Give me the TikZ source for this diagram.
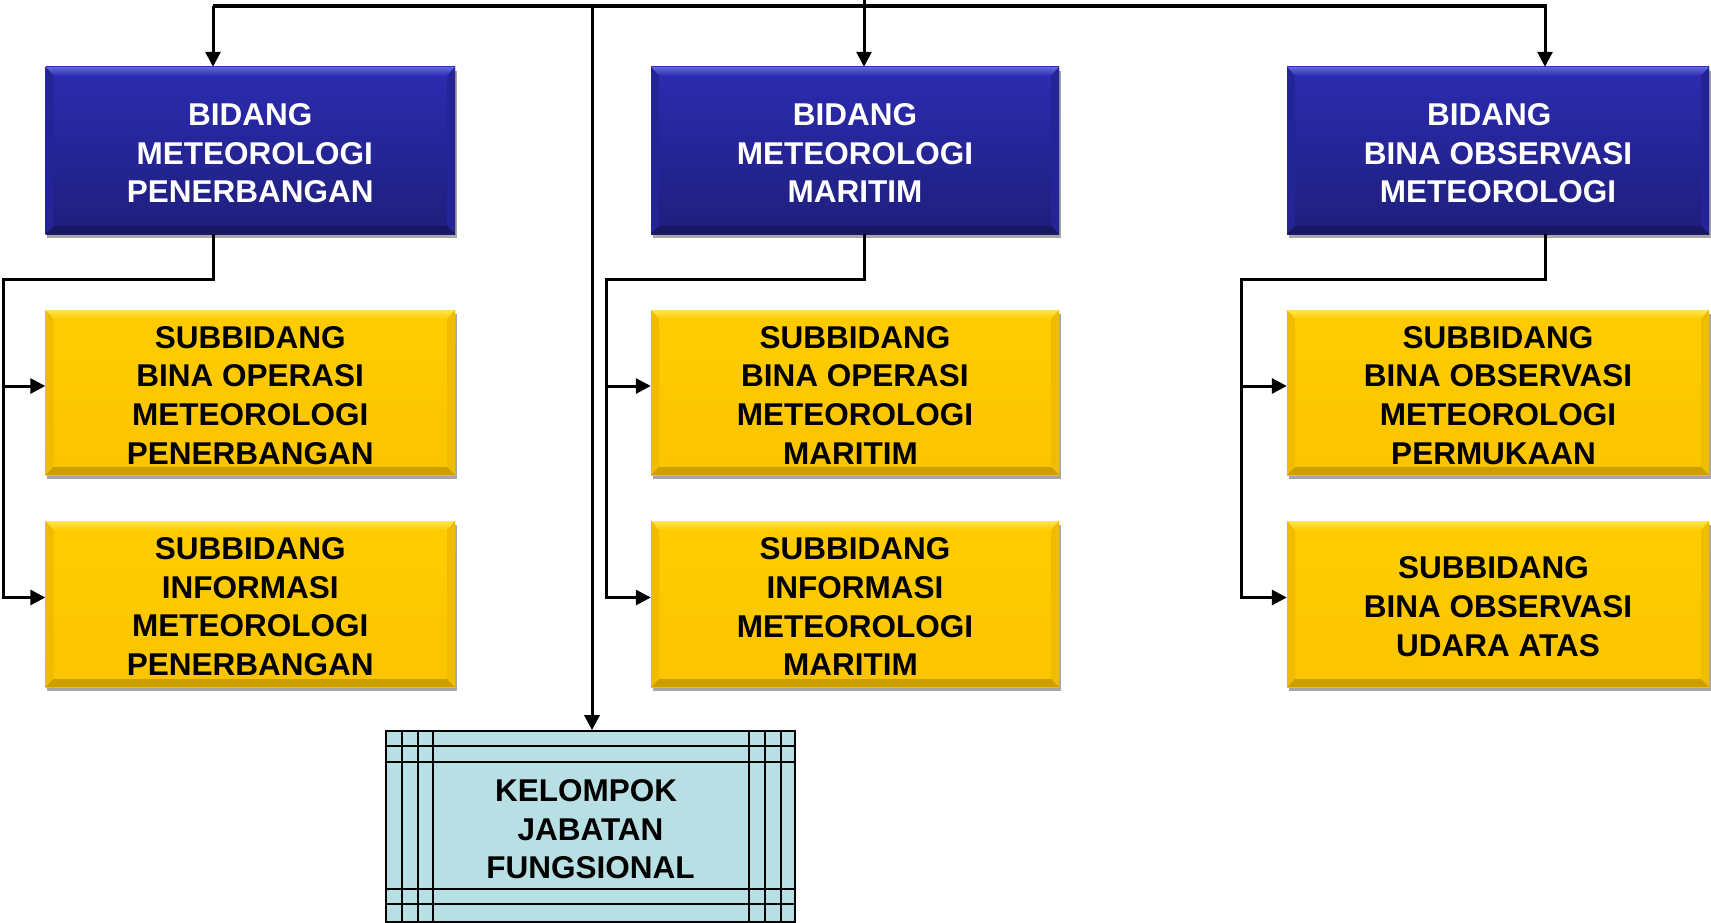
\documentclass[tikz,border=0pt]{standalone}
\usepackage{fontspec}
\setmainfont{Liberation Sans}
\usetikzlibrary{arrows.meta,shadows}
\definecolor{bluetop}{RGB}{44,44,178}
\definecolor{bluebot}{RGB}{30,30,124}
\definecolor{bluelt}{RGB}{100,100,235}
\definecolor{blueside}{RGB}{36,36,150}
\definecolor{bluedk}{RGB}{24,24,96}
\definecolor{yel}{RGB}{255,204,0}
\definecolor{yelbot}{RGB}{250,196,0}
\definecolor{yellt}{RGB}{255,230,80}
\definecolor{yelside}{RGB}{240,188,0}
\definecolor{yeldk}{RGB}{205,158,0}
\definecolor{kjfc}{RGB}{184,223,227}
\newcommand\tsp{\hspace*{8.8pt}}
\newcommand\tup{\rule{0pt}{27.5pt}}
\begin{document}
\begin{tikzpicture}[
  x=1pt,y=-1pt,
  bevelpic/.style n args={4}{path picture={
    \coordinate (pnw) at (path picture bounding box.north west);
    \coordinate (pne) at (path picture bounding box.north east);
    \coordinate (psw) at (path picture bounding box.south west);
    \coordinate (pse) at (path picture bounding box.south east);
    \shade[top color=#1,bottom color=#2] (pnw) -- (pne) -- ([shift={(-8pt,-9pt)}]pne) -- ([shift={(8pt,-9pt)}]pnw) -- cycle;
    \fill[#3] (pnw) -- ([shift={(8pt,-9pt)}]pnw) -- ([shift={(8pt,8pt)}]psw) -- (psw) -- cycle;
    \fill[#3] (pne) -- ([shift={(-8pt,-9pt)}]pne) -- ([shift={(-8pt,8pt)}]pse) -- (pse) -- cycle;
    \fill[#4] (psw) -- (pse) -- ([shift={(-8pt,8pt)}]pse) -- ([shift={(8pt,8pt)}]psw) -- cycle;
  }},
  boxfont/.style={font=\bfseries\fontsize{31.5}{38.7}\selectfont},
  bluebox/.style={boxfont, text=white, align=center, inner sep=0pt,
    minimum height=167pt, top color=bluetop, bottom color=bluebot,
    drop shadow={shadow xshift=1.5pt,shadow yshift=-4pt,opacity=.35,fill=black},
    bevelpic={bluelt}{bluetop}{blueside}{bluedk}},
  yelbox/.style={boxfont, text=black, align=center, inner sep=0pt,
    top color=yel, bottom color=yelbot,
    drop shadow={shadow xshift=1.5pt,shadow yshift=-4pt,opacity=.35,fill=black},
    bevelpic={yellt}{yel}{yelside}{yeldk}},
  kjfbox/.style={boxfont, text=black, align=center, inner sep=0pt,
    draw=black, line width=1.6pt, fill=kjfc,
    minimum width=409pt, minimum height=191pt,
    path picture={
      \coordinate (pnw) at (path picture bounding box.north west);
      \coordinate (pne) at (path picture bounding box.north east);
      \coordinate (psw) at (path picture bounding box.south west);
      \coordinate (pse) at (path picture bounding box.south east);
      \foreach \d in {16,32,47} {\draw[line width=1.6pt] ([xshift=\d pt]pnw) -- ([xshift=\d pt]psw);}
      \foreach \d in {14,30,46} {\draw[line width=1.6pt] ([xshift=-\d pt]pne) -- ([xshift=-\d pt]pse);}
      \foreach \d in {15,31} {\draw[line width=1.6pt] ([yshift=-\d pt]pnw) -- ([yshift=-\d pt]pne);}
      \foreach \d in {18,33} {\draw[line width=1.6pt] ([yshift=\d pt]psw) -- ([yshift=\d pt]pse);}
    }},
  conn/.style={draw=black, line width=3pt},
  arr/.style={-{Triangle[length=15pt,width=15pt]}}
]
\useasboundingbox (0,0) rectangle (1711,923);

% Bidang boxes
\node[bluebox, minimum width=409.5pt] (b1) at (250.25,150.5) {\tup BIDANG\\\tsp METEOROLOGI\\PENERBANGAN};
\node[bluebox, minimum width=408pt] (b2) at (855,150.5) {\tup BIDANG\\METEOROLOGI\tsp\\MARITIM};
\node[bluebox, minimum width=422pt] (b3) at (1498,150.5) {\tup BIDANG\tsp\tsp\\BINA OBSERVASI\\METEOROLOGI};

% Subbidang boxes
\node[yelbox, minimum width=409.5pt, minimum height=165pt] (y11) at (250.25,392.5) {\tup SUBBIDANG\\BINA OPERASI\\METEOROLOGI\tsp\\PENERBANGAN};
\node[yelbox, minimum width=409.5pt, minimum height=166pt] (y12) at (250.25,604) {\tup SUBBIDANG\\INFORMASI\\METEOROLOGI\tsp\\PENERBANGAN};
\node[yelbox, minimum width=408pt, minimum height=165pt] (y21) at (855,392.5) {\tup SUBBIDANG\\BINA OPERASI\\METEOROLOGI\tsp\\MARITIM\tsp};
\node[yelbox, minimum width=408pt, minimum height=166pt] (y22) at (855,604) {\tup SUBBIDANG\\INFORMASI\\METEOROLOGI\tsp\\MARITIM\tsp};
\node[yelbox, minimum width=422pt, minimum height=165pt] (y31) at (1498,392.5) {\tup SUBBIDANG\\BINA OBSERVASI\\METEOROLOGI\tsp\\PERMUKAAN\tsp};
\node[yelbox, minimum width=422pt, minimum height=166pt] (y32) at (1498,604) {\tup SUBBIDANG\tsp\\BINA OBSERVASI\\UDARA ATAS};

% Kelompok jabatan fungsional
\node[kjfbox] (kjf) at (590.5,826.5) {\tup KELOMPOK\tsp\\JABATAN\tsp\\FUNGSIONAL};

% Top connectors
\coordinate (up) at (864,0);
\coordinate (t1) at (213,6);
\coordinate (t2) at (864,6);
\coordinate (tm) at (592,6);
\coordinate (t3) at (1545,6);
\draw[conn, line width=3.4pt] (t1) -- ([xshift=2pt]t3);
\draw[conn,arr] (t1) -- (t1 |- b1.north);
\draw[conn,arr] (up) -- (up |- b2.north);
\draw[conn,arr] (t3) -- (t3 |- b3.north);
\draw[conn,arr] (tm) -- (tm |- kjf.north);

% Brackets
\coordinate (k1) at (3,279);
\coordinate (k2) at (606,279);
\coordinate (k3) at (1241,279);
\coordinate (a11) at ([yshift=6.5pt]y11.west);
\coordinate (a12) at ([yshift=6.5pt]y12.west);
\coordinate (a21) at ([yshift=6.5pt]y21.west);
\coordinate (a22) at ([yshift=6.5pt]y22.west);
\coordinate (a31) at ([yshift=6.5pt]y31.west);
\coordinate (a32) at ([yshift=6.5pt]y32.west);

\draw[conn,arr] (b1.south -| t1) |- (k1) |- (a12);
\draw[conn,arr] (k1 |- a11) -- (a11);
\draw[conn,arr] (b2.south -| t2) |- (k2) |- (a22);
\draw[conn,arr] (k2 |- a21) -- (a21);
\draw[conn,arr] (b3.south -| t3) |- (k3) |- (a32);
\draw[conn,arr] (k3 |- a31) -- (a31);
\end{tikzpicture}
\end{document}
